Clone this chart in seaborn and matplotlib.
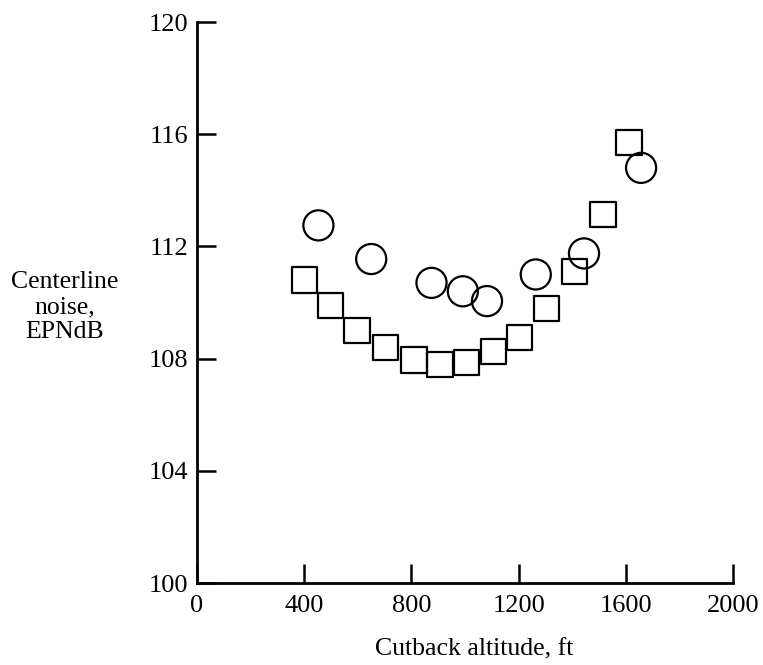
import matplotlib
matplotlib.use('Agg')
import pandas as pd
import seaborn as sns
import matplotlib.pyplot as plt

# cutback altitude (ft) vs centerline noise (EPNdB)
sq_alt = [401, 498, 597, 703, 810, 907, 1006, 1107, 1204, 1305, 1408, 1515, 1612]
sq_noise = [110.8, 109.9, 109.0, 108.4, 107.95, 107.8, 107.85, 108.25, 108.75, 109.8, 111.1, 113.15, 115.7]

ci_alt = [453, 650, 875, 992, 1082, 1264, 1444, 1657]
ci_noise = [112.75, 111.55, 110.7, 110.4, 110.05, 111.0, 111.75, 114.8]

x_ticks = [0, 400, 800, 1200, 1600, 2000]
y_ticks = [100, 104, 108, 112, 116, 120]

squares = pd.DataFrame({'alt': sq_alt, 'noise': sq_noise})
circles = pd.DataFrame({'alt': ci_alt, 'noise': ci_noise})

sns.set_style('ticks')
plt.rcParams['font.family'] = ['Liberation Serif', 'DejaVu Serif']
plt.rcParams['axes.edgecolor'] = 'black'

fig = plt.figure(figsize=(7.63, 6.65), dpi=100)
ax = fig.add_axes([0.2582, 0.1233, 0.7025, 0.8436])

sns.scatterplot(data=squares, x='alt', y='noise', marker='s', s=330,
                color='black', facecolor='none', edgecolor='black',
                linewidth=1.6, ax=ax, clip_on=False, zorder=3)
sns.scatterplot(data=circles, x='alt', y='noise', marker='o', s=470,
                color='black', facecolor='none', edgecolor='black',
                linewidth=1.6, ax=ax, clip_on=False, zorder=3)

ax.set_xlim(0, 2000)
ax.set_ylim(100, 120)
ax.set_xticks(x_ticks)
ax.set_yticks(y_ticks)
ax.set_xticklabels([str(t) for t in x_ticks])
ax.set_yticklabels([str(t) for t in y_ticks])

sns.despine(ax=ax)
for side in ['left', 'bottom']:
    ax.spines[side].set_linewidth(2.0)
    ax.spines[side].set_color('black')

ax.tick_params(axis='both', direction='in', length=14, width=1.8,
               colors='black', labelsize=19)
ax.tick_params(axis='x', pad=8.5)
ax.tick_params(axis='y', pad=6.5)

ax.set_xlabel('')
ax.set_ylabel('')
fig.text(474 / 763, 1 - 655 / 665, 'Cutback altitude, ft', ha='center',
         va='baseline', fontsize=18.5, color='black')
fig.text(65 / 763, 1 - 307 / 665, 'Centerline\nnoise,\nEPNdB', ha='center',
         va='center', fontsize=18.5, linespacing=1.2, color='black')

fig.savefig('out.png', dpi=100)
